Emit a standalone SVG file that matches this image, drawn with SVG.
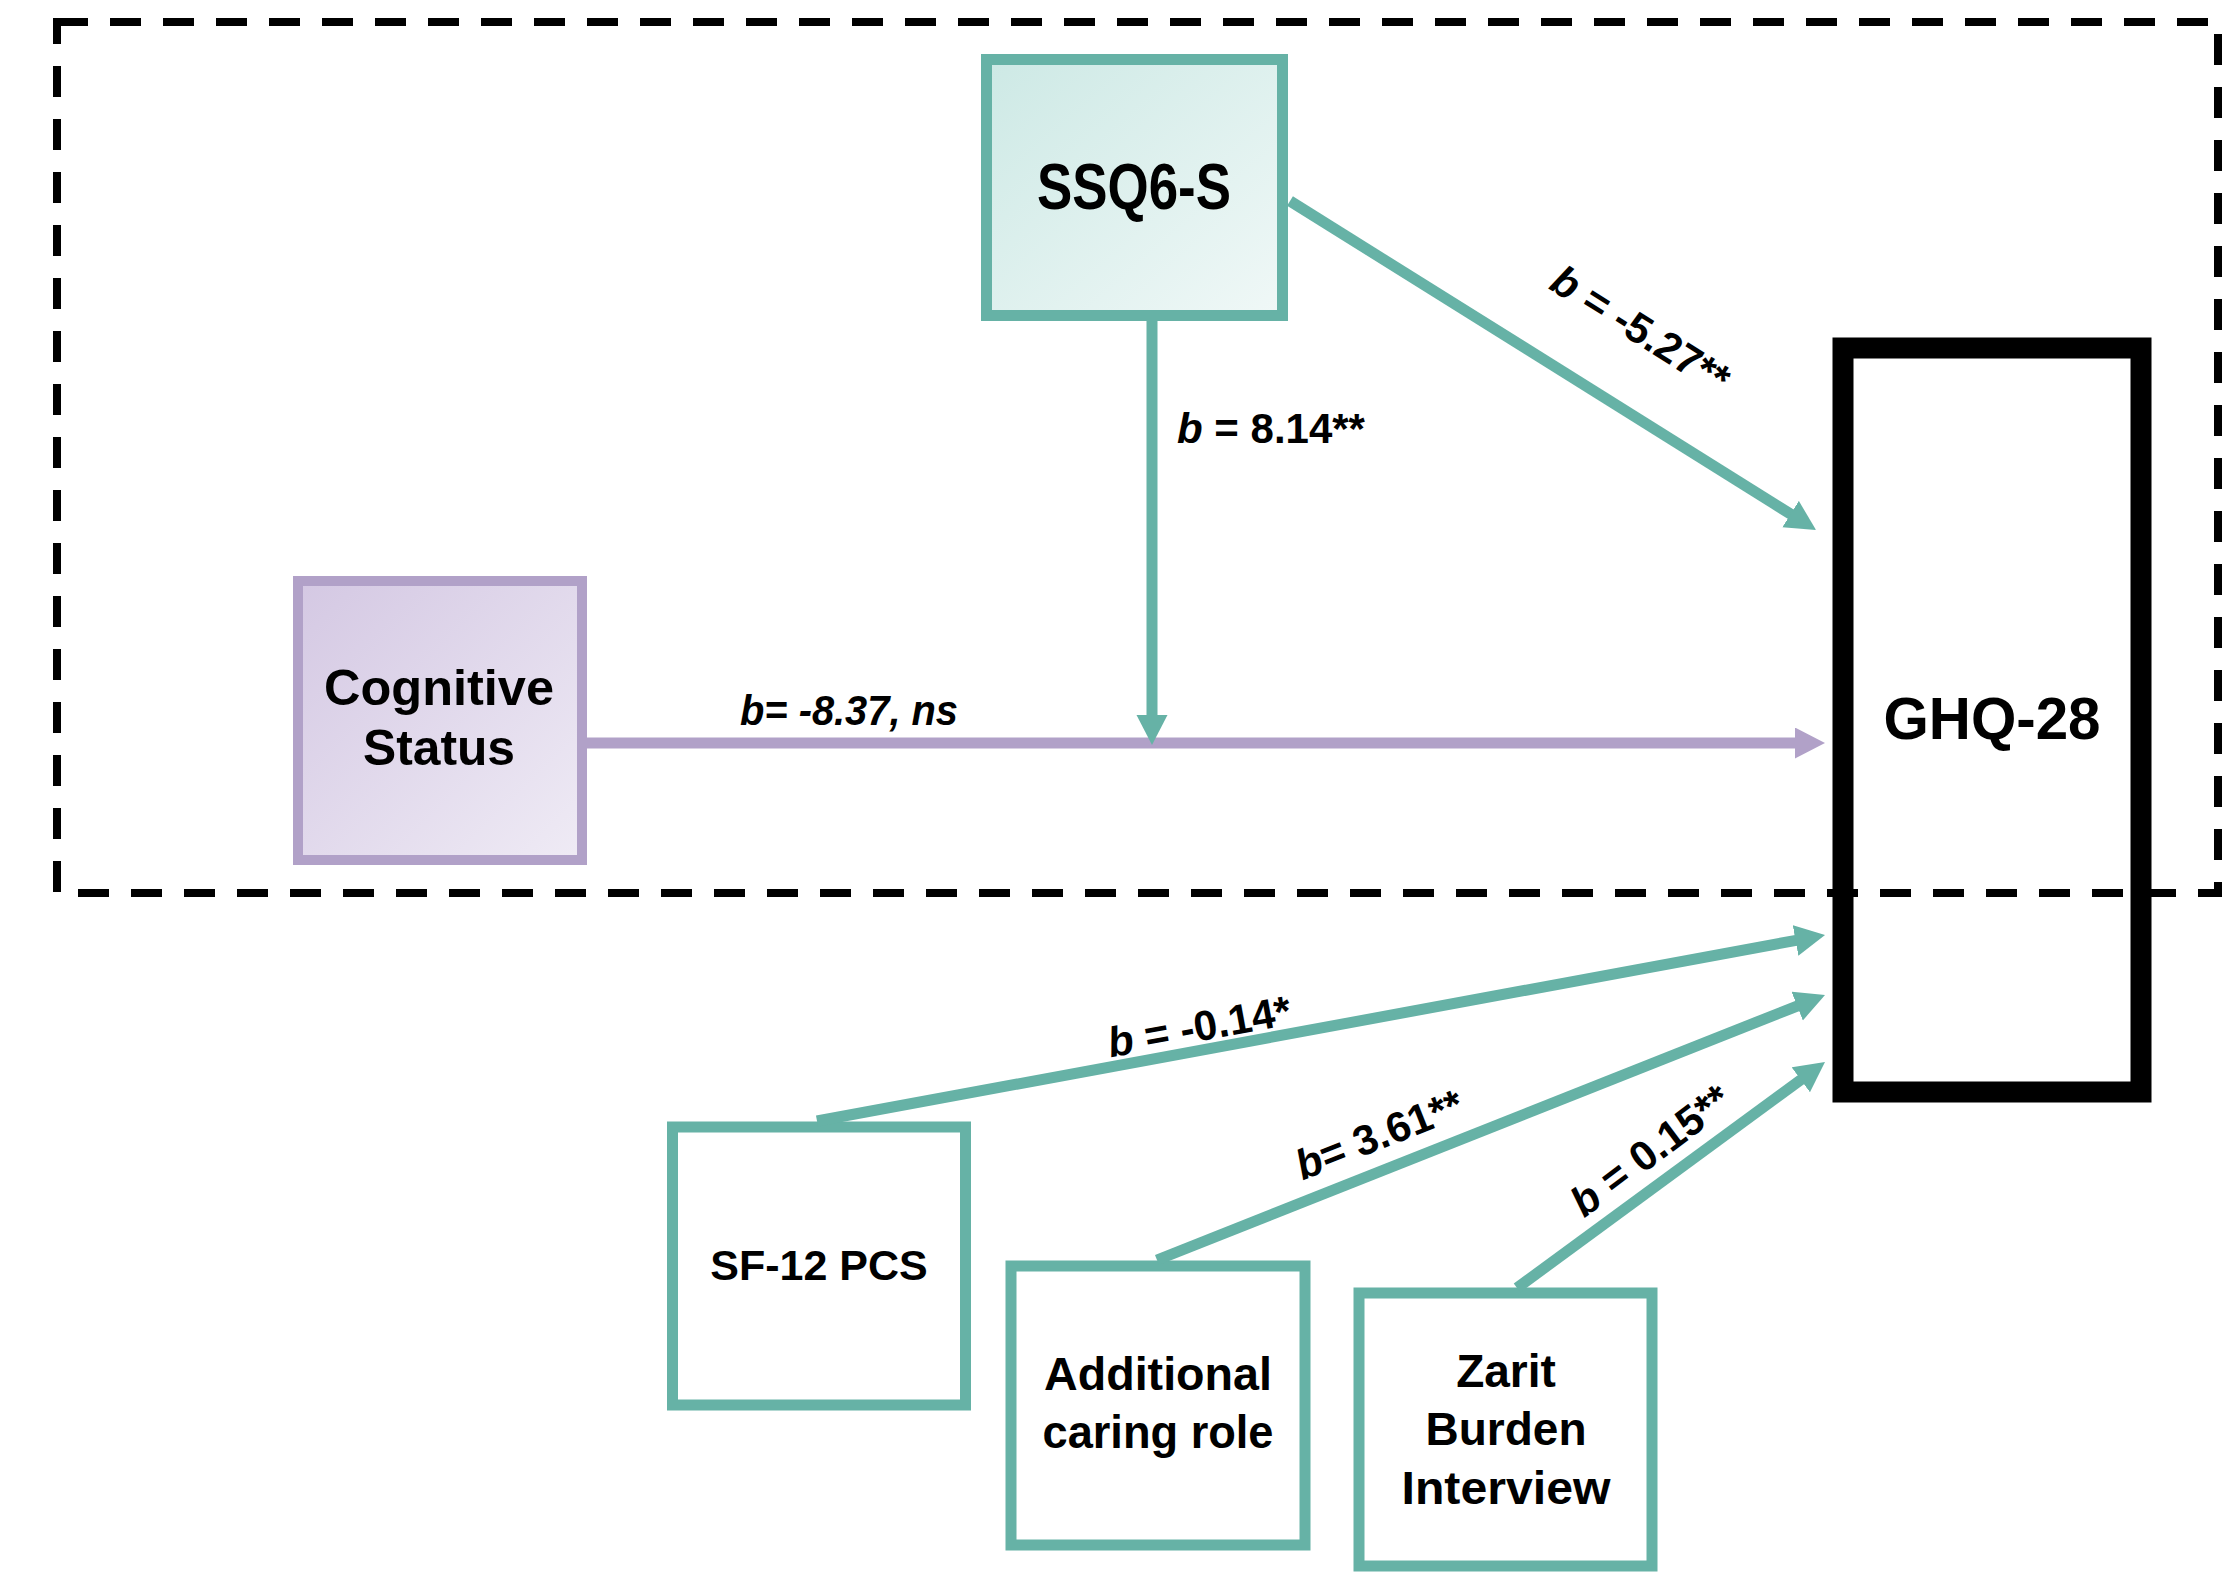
<svg xmlns="http://www.w3.org/2000/svg" width="2225" height="1572" viewBox="0 0 2225 1572">
<style>
.t{font-family:"Liberation Sans",Arial,sans-serif;font-weight:bold;fill:#000}
.lbl{font-family:"Liberation Sans",Arial,sans-serif;font-weight:bold;font-size:42px;fill:#000}
.teal{stroke:#66b2a6;stroke-width:11;fill:none}
.tealbox{stroke:#66b2a6;stroke-width:11;fill:#fff}
.purp{stroke:#b1a1c8;stroke-width:11;fill:none}
</style>
<defs>
<linearGradient id="gT" x1="0" y1="0" x2="1" y2="1">
<stop offset="0" stop-color="#cde9e5"/><stop offset="1" stop-color="#f0f8f7"/>
</linearGradient>
<linearGradient id="gP" x1="0" y1="0" x2="1" y2="1">
<stop offset="0" stop-color="#d4c8e3"/><stop offset="1" stop-color="#efebf5"/>
</linearGradient>
<marker id="aT" markerUnits="userSpaceOnUse" markerWidth="32" markerHeight="32" viewBox="0 0 32 32" refX="2" refY="15.5" orient="auto">
<path d="M0,0 L30,15.5 L0,31 z" fill="#66b2a6"/>
</marker>
<marker id="aP" markerUnits="userSpaceOnUse" markerWidth="32" markerHeight="32" viewBox="0 0 32 32" refX="2" refY="15.5" orient="auto">
<path d="M0,0 L30,15.5 L0,31 z" fill="#b1a1c8"/>
</marker>
</defs>
<rect width="2225" height="1572" fill="#fff"/>

<g id="nodes">
<g id="ssq6s">
<rect x="986.5" y="59.5" width="296" height="256" fill="url(#gT)" stroke="#66b2a6" stroke-width="11"/>
<text class="t" x="1134" y="209" font-size="64" text-anchor="middle" textLength="194" lengthAdjust="spacingAndGlyphs">SSQ6-S</text>
</g>
<g id="cognitive">
<rect x="298" y="581" width="284" height="279" fill="url(#gP)" stroke="#b1a1c8" stroke-width="10"/>
<text class="t" x="439" y="705" font-size="50" text-anchor="middle" textLength="230" lengthAdjust="spacingAndGlyphs">Cognitive</text>
<text class="t" x="439" y="765" font-size="50" text-anchor="middle" textLength="152" lengthAdjust="spacingAndGlyphs">Status</text>
</g>
<g id="ghq28">
<rect x="1843" y="348" width="298" height="744" fill="#fff" stroke="#000" stroke-width="21"/>
<text class="t" x="1992" y="739" font-size="60" text-anchor="middle" textLength="217" lengthAdjust="spacingAndGlyphs">GHQ-28</text>
</g>
<g id="sf12">
<rect class="tealbox" x="672.5" y="1127" width="293" height="278"/>
<text class="t" x="819" y="1280" font-size="43" text-anchor="middle">SF-12 PCS</text>
</g>
<g id="additional">
<rect class="tealbox" x="1011" y="1266" width="294" height="279"/>
<text class="t" x="1158" y="1390" font-size="46" text-anchor="middle" textLength="228" lengthAdjust="spacingAndGlyphs">Additional</text>
<text class="t" x="1158" y="1448" font-size="46" text-anchor="middle" textLength="231" lengthAdjust="spacingAndGlyphs">caring role</text>
</g>
<g id="zarit">
<rect class="tealbox" x="1359" y="1293" width="293" height="273"/>
<text class="t" x="1506" y="1387" font-size="46" text-anchor="middle">Zarit</text>
<text class="t" x="1506" y="1445" font-size="46" text-anchor="middle">Burden</text>
<text class="t" x="1506" y="1504" font-size="46" text-anchor="middle" textLength="209" lengthAdjust="spacingAndGlyphs">Interview</text>
</g>
</g>

<rect id="moderation-frame" x="57" y="22" width="2161" height="871" fill="none" stroke="#000" stroke-width="8" stroke-dasharray="31 22"/>

<g id="connectors">
<line class="purp" x1="587" y1="743" x2="1797" y2="743" marker-end="url(#aP)"/>
<line class="teal" x1="1152" y1="321" x2="1152" y2="717" marker-end="url(#aT)"/>
<line class="teal" x1="1290" y1="201" x2="1792.3" y2="515.1" marker-end="url(#aT)"/>
<line class="teal" x1="817" y1="1121" x2="1797.5" y2="940.1" marker-end="url(#aT)"/>
<line class="teal" x1="1157" y1="1260" x2="1799" y2="1005.3" marker-end="url(#aT)"/>
<line class="teal" x1="1517" y1="1288" x2="1802.4" y2="1078.6" marker-end="url(#aT)"/>
</g>

<g id="labels">
<text class="lbl" x="1177" y="443"><tspan font-style="italic">b</tspan> = 8.14**</text>
<text class="lbl" x="740" y="725" font-size="40" font-style="italic" textLength="218" lengthAdjust="spacingAndGlyphs">b= -8.37, ns</text>
<text class="lbl" transform="translate(1641,329) rotate(32.2)" x="0" y="15" text-anchor="middle"><tspan font-style="italic">b</tspan> = -5.27**</text>
<text class="lbl" transform="translate(1199,1026) rotate(-10.4)" x="0" y="15" text-anchor="middle"><tspan font-style="italic">b</tspan> = -0.14*</text>
<text class="lbl" transform="translate(1379,1134) rotate(-21.6)" x="0" y="15" text-anchor="middle"><tspan font-style="italic">b</tspan>= 3.61**</text>
<text class="lbl" transform="translate(1650,1150) rotate(-37)" x="0" y="15" text-anchor="middle"><tspan font-style="italic">b</tspan> = 0.15**</text>
</g>
</svg>
